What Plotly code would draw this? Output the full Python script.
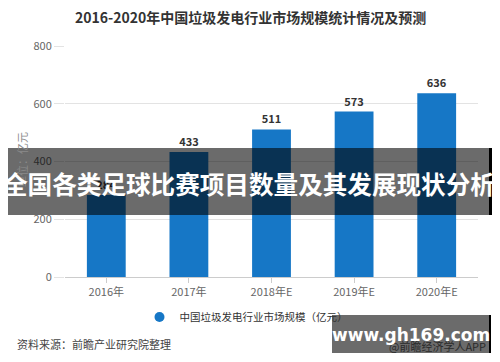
import plotly.graph_objects as go

categories = ["2016年", "2017年", "2018年E", "2019年E", "2020年E"]
values = [284, 433, 511, 573, 636]
series_name = "中国垃圾发电行业市场规模（亿元）"
y_ticks = [0, 200, 400, 600, 800]

W, H = 500, 362
D = 8  # page body offset of the rendered figure
L, R, T, B = 57, 30, 38, 93
PW, PH = W - L - R, H - T - B

def px(x):
    return (x - D - L) / PW

def py(y):
    return (H - B - (y - D)) / PH

FONT = "Noto Sans CJK SC, Microsoft YaHei, sans-serif"
BAR = "#1677c6"

fig = go.Figure()
fig.add_trace(go.Bar(
    x=categories, y=values, marker=dict(color=BAR, line=dict(width=0)),
    width=0.47, text=values, texttemplate="<b>%{y}</b>", textposition="outside",
    textfont=dict(family=FONT, size=11, color="#333333"),
    cliponaxis=False, showlegend=False, name=series_name,
))
fig.add_trace(go.Scatter(
    x=[None], y=[None], mode="markers", name=series_name,
    marker=dict(color=BAR, size=10, symbol="circle"), showlegend=True,
))

shapes = [
    dict(type="rect", xref="paper", yref="paper", x0=px(0), x1=px(8), y0=py(215), y1=py(148),
         fillcolor="black", line=dict(width=0), layer="above"),
    dict(type="rect", xref="paper", yref="paper", x0=px(489), x1=px(508), y0=py(215), y1=py(148),
         fillcolor="black", line=dict(width=0), layer="above"),
    dict(type="rect", xref="paper", yref="paper", x0=px(8), x1=px(489), y0=py(215), y1=py(148),
         fillcolor="rgba(0,0,0,0.58)", line=dict(width=0), layer="above"),
    dict(type="rect", xref="paper", yref="paper", x0=px(332), x1=px(489), y0=py(353), y1=py(315),
         fillcolor="rgba(0,0,0,0.58)", line=dict(width=0), layer="above"),
    dict(type="rect", xref="paper", yref="paper", x0=px(489), x1=px(491), y0=py(353), y1=py(315),
         fillcolor="black", line=dict(width=0), layer="above"),
]

annotations = [
    dict(text="<b>2016-2020年中国垃圾发电行业市场规模统计情况及预测</b>", xref="paper", yref="paper",
         x=px(250), y=py(17), showarrow=False, xanchor="center", yanchor="middle",
         font=dict(family=FONT, size=14, color="#333333")),
    dict(text="单位：亿元", xref="paper", yref="paper", textangle=-90,
         x=px(22), y=py(160), showarrow=False, xanchor="center", yanchor="middle",
         font=dict(family=FONT, size=11, color="#8a8a8a")),
    dict(text="资料来源：前瞻产业研究院整理", xref="paper", yref="paper",
         x=px(15), y=py(344), showarrow=False, xanchor="left", yanchor="middle",
         font=dict(family=FONT, size=11, color="#444444")),
    dict(text="<b>全国各类足球比赛项目数量及其发展现状分析</b>", xref="paper", yref="paper",
         x=px(249), y=py(183), showarrow=False, xanchor="center", yanchor="middle",
         font=dict(family=FONT, size=24.6, color="white")),
    dict(text="@前瞻经济学人APP", xref="paper", yref="paper",
         x=px(488), y=py(346), showarrow=False, xanchor="right", yanchor="middle",
         font=dict(family=FONT, size=11, color="#2a2a2a")),
    dict(text="<b>www.gh169.com</b>", xref="paper", yref="paper",
         x=px(411), y=py(335), showarrow=False, xanchor="center", yanchor="middle",
         font=dict(family="DejaVu Sans, sans-serif", size=17, color="white")),
]

fig.update_layout(
    width=W, height=H,
    margin=dict(l=L, r=R, t=T, b=B, autoexpand=False),
    paper_bgcolor="white", plot_bgcolor="white",
    font=dict(family=FONT, size=11, color="#666666"),
    showlegend=True,
    legend=dict(orientation="h", x=px(246), y=py(317), xanchor="center", yanchor="middle",
                font=dict(family=FONT, size=10.5, color="#333333"), itemwidth=30,
                bgcolor="rgba(0,0,0,0)"),
    xaxis=dict(showgrid=False, showline=True, linecolor="#cccccc", linewidth=1,
               ticks="outside", ticklen=5, tickcolor="#cccccc",
               tickfont=dict(family=FONT, size=11, color="#666666")),
    yaxis=dict(range=[0, 800], tickvals=y_ticks, showgrid=True, gridcolor="#e3e3e3",
               zeroline=False, showline=False, ticks="outside", ticklen=10, tickcolor="#e3e3e3",
               tickfont=dict(family=FONT, size=11, color="#666666")),
    shapes=shapes, annotations=annotations,
)

fig.write_html("out.html")
